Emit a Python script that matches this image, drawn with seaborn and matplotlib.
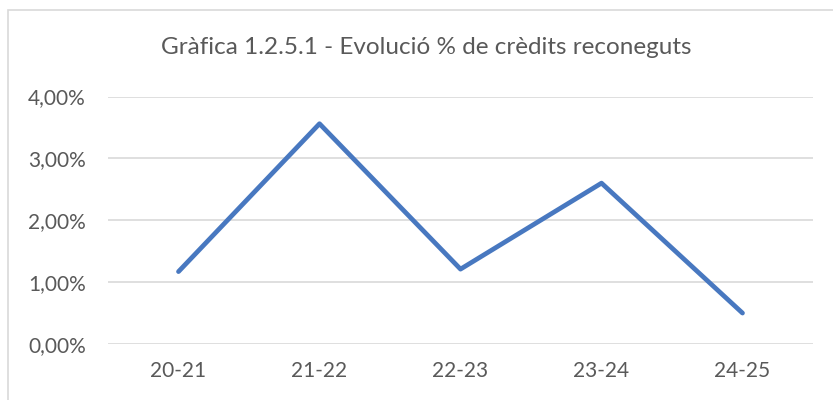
import matplotlib
matplotlib.use("Agg")
import matplotlib.pyplot as plt
import seaborn as sns
import pandas as pd
from matplotlib.patches import Rectangle
from matplotlib.ticker import FuncFormatter

categories = ["20-21", "21-22", "22-23", "23-24", "24-25"]
values = [0.0117, 0.0356, 0.0121, 0.0260, 0.0050]
title = "Gràfica 1.2.5.1 - Evolució % de crèdits reconeguts"

sns.set_theme(style="white")
plt.rcParams['font.family'] = ['Lato', 'DejaVu Sans']

df = pd.DataFrame({"curs": categories, "pct": values})

fig = plt.figure(figsize=(8.33, 4.0), dpi=100)
ax = fig.add_axes([108/833, 1-344/400, (813-108)/833, (344-96.5)/400])

sns.lineplot(data=df, x="curs", y="pct", ax=ax, color="#4878C0", linewidth=3.4,
             solid_capstyle="round", solid_joinstyle="round", sort=False)

ax.set_xlim(-0.5, len(categories)-0.5)
ax.set_ylim(0, 0.04)
ax.set_yticks([0, 0.01, 0.02, 0.03, 0.04])
ax.yaxis.set_major_formatter(FuncFormatter(lambda v, p: f"{v*100:.2f}%".replace(".", ",")))
ax.grid(axis="y", color="#D9D9D9", linewidth=1.2)
ax.set_axisbelow(True)
for s in ax.spines.values():
    s.set_visible(False)
ax.set_xlabel("")
ax.set_ylabel("")
ax.tick_params(axis="both", length=0, labelsize=15, colors="#595959")
ax.tick_params(axis="y", pad=16)
ax.tick_params(axis="x", pad=12)

fig.text(426/833, 1-47/400, title, ha="center", va="center", fontsize=17.5, color="#595959")

fig.patches.append(Rectangle((8/833, -0.05), 1.1, 1-10/400+0.05, transform=fig.transFigure,
                             fill=False, edgecolor="#D9D9D9", linewidth=1.2, zorder=0))

fig.savefig("out.png", dpi=100)
